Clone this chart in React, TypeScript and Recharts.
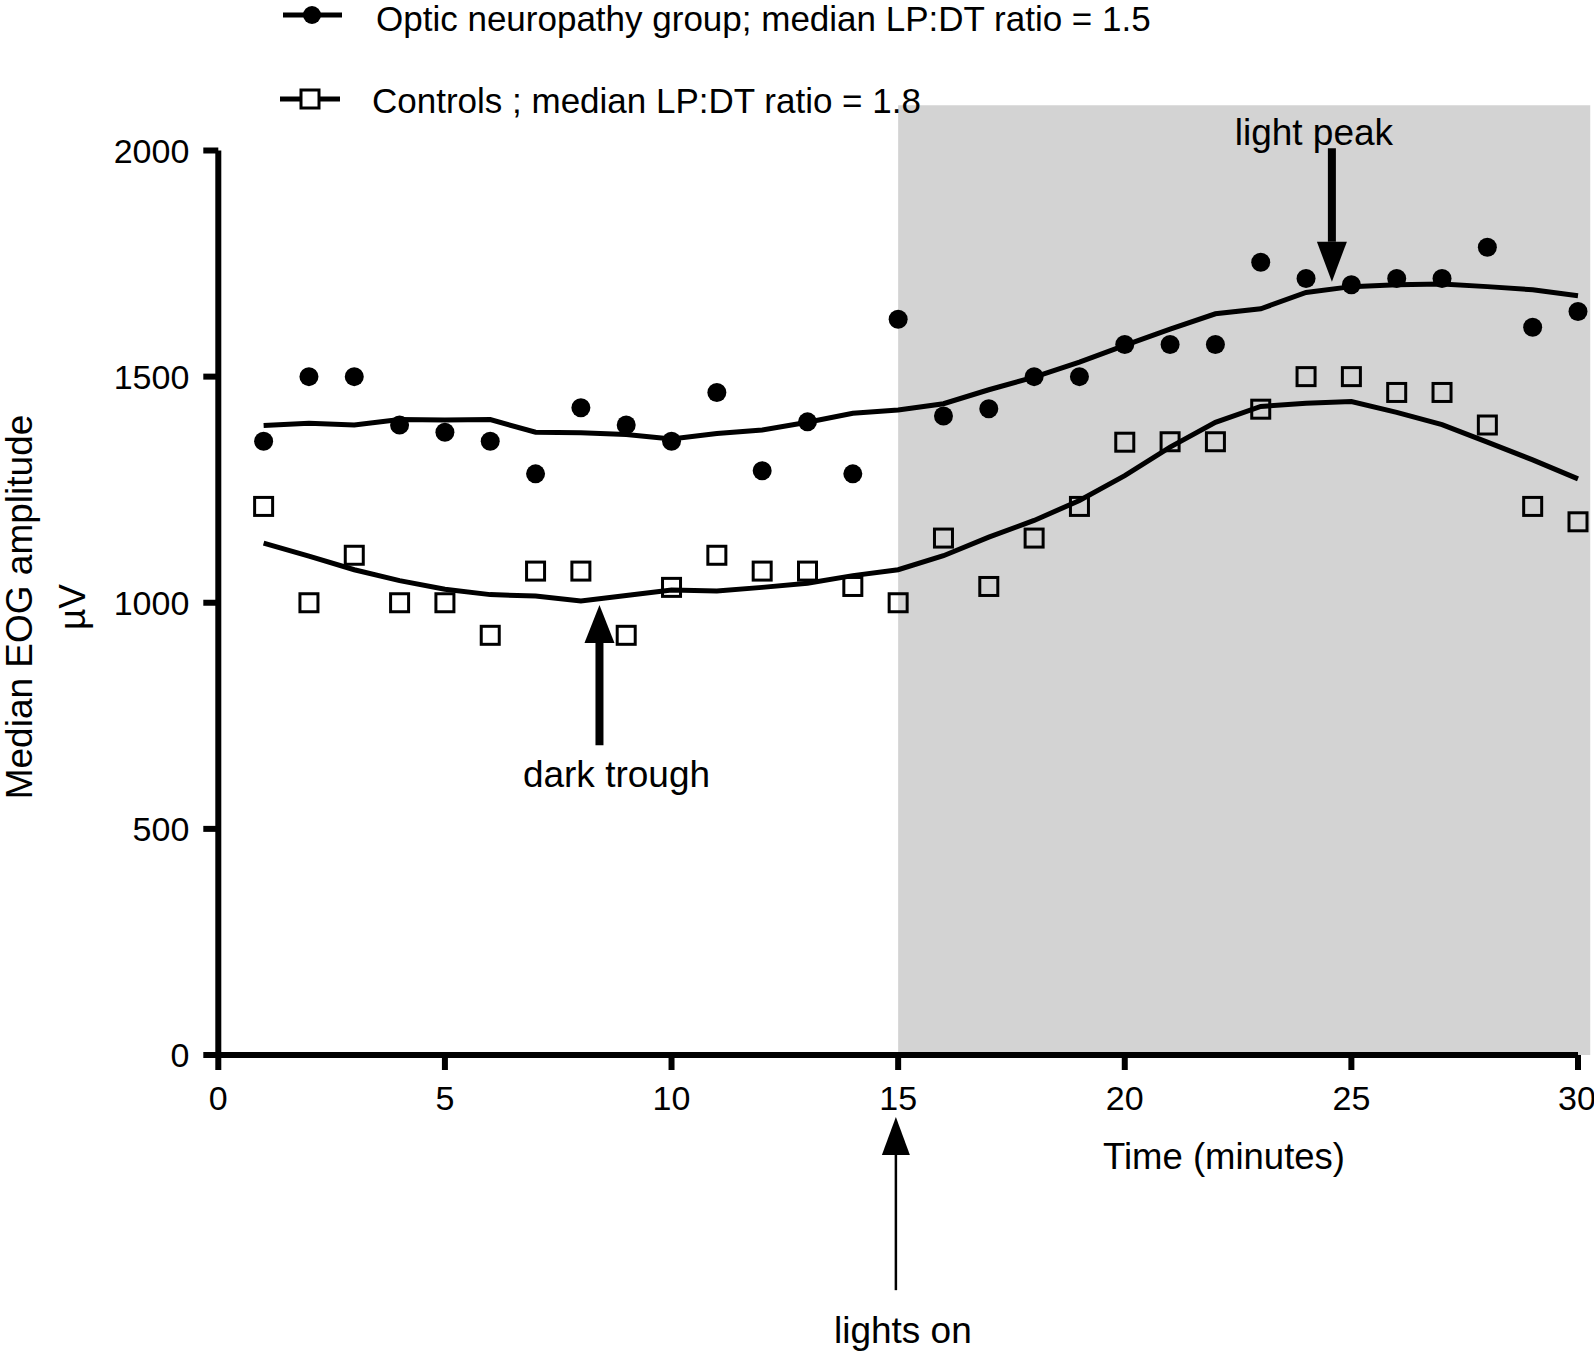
import { ComposedChart, Line, Scatter, XAxis, YAxis, ReferenceArea, ReferenceLine } from "recharts"

// minutes after start of recording
const minutes = [1, 2, 3, 4, 5, 6, 7, 8, 9, 10, 11, 12, 13, 14, 15, 16, 17, 18, 19, 20, 21, 22, 23, 24, 25, 26, 27, 28, 29, 30]

// median EOG amplitude, µV
const opticPoints = [1357, 1500, 1500, 1393, 1377, 1357, 1285, 1431, 1393, 1357, 1465, 1292, 1400, 1285, 1627, 1413, 1429, 1500, 1500, 1571, 1571, 1571, 1753, 1717, 1703, 1717, 1717, 1786, 1609, 1644]
const controlPoints = [1213, 1000, 1105, 1000, 1000, 928, 1070, 1070, 928, 1034, 1105, 1070, 1070, 1036, 1000, 1143, 1036, 1143, 1213, 1355, 1356, 1356, 1428, 1500, 1500, 1465, 1465, 1393, 1213, 1179]

// smoothed curves
const opticTrend = [1392, 1397, 1393, 1405, 1404, 1405, 1377, 1376, 1372, 1362, 1374, 1382, 1399, 1419, 1426, 1440, 1471, 1499, 1532, 1569, 1605, 1639, 1650, 1686, 1699, 1703, 1705, 1699, 1692, 1679]
const controlTrend = [1132, 1103, 1073, 1049, 1030, 1018, 1015, 1004, 1016, 1028, 1026, 1034, 1043, 1060, 1073, 1104, 1145, 1182, 1226, 1281, 1344, 1399, 1434, 1441, 1445, 1421, 1394, 1355, 1316, 1274]

const xTicks = [0, 5, 10, 15, 20, 25, 30]
const yTicks = [0, 500, 1000, 1500, 2000]
const seriesNames = ["Optic neuropathy group; median LP:DT ratio = 1.5", "Controls ; median LP:DT ratio = 1.8"]

const FONT = '"Liberation Sans", Arial, Helvetica, sans-serif'

const rows = minutes.map((m, i) => ({
  minute: m,
  optic: opticPoints[i],
  control: controlPoints[i],
  opticFit: opticTrend[i],
  controlFit: controlTrend[i],
}))

// eslint-disable-next-line @typescript-eslint/no-explicit-any
function FilledDot({ cx, cy }: any) {
  if (cx == null || cy == null) return null
  return <circle cx={cx} cy={cy} r={9.5} fill="#000" />
}

// eslint-disable-next-line @typescript-eslint/no-explicit-any
function OpenSquare({ cx, cy }: any) {
  if (cx == null || cy == null) return null
  return <rect x={cx - 9} y={cy - 9} width={18} height={18} fill="none" stroke="#000" strokeWidth={3} />
}

// arrow from (x1,y1) to the tip at (x2,y2), with its caption near the tail
function arrow(shaft: number, headW: number, headL: number, text: string, tdx: number, tdy: number) {
  // eslint-disable-next-line @typescript-eslint/no-explicit-any
  return (p: any) => {
    const { x1, y1, x2, y2 } = p
    const dir = y2 > y1 ? 1 : -1
    const baseY = y2 - dir * headL
    return (
      <g>
        <line x1={x1} y1={y1} x2={x2} y2={baseY} stroke="#000" strokeWidth={shaft} />
        <polygon points={`${x2 - headW / 2},${baseY} ${x2 + headW / 2},${baseY} ${x2},${y2}`} fill="#000" />
        <text x={x1 + tdx} y={y1 + tdy} textAnchor="middle" fontSize={37} fontFamily={FONT} fill="#000">
          {text}
        </text>
      </g>
    )
  }
}

const tickStyle = { fontSize: 34, fontFamily: FONT, fill: "#000" }
const axisStroke = { stroke: "#000", strokeWidth: 6 }

export default function App() {
  return (
    <div style={{ position: "absolute", left: 0, top: 0, width: 1594, height: 1357, background: "#fff" }}>
      <ComposedChart
        width={1594}
        height={1357}
        data={rows}
        margin={{ top: 150.5, right: 16, left: 118.3, bottom: 242 }}
      >
        <ReferenceArea x1={15} x2={30.27} y1={0} y2={2100} fill="#d3d3d3" fillOpacity={1} stroke="none" ifOverflow="visible" />
        <XAxis
          dataKey="minute"
          type="number"
          domain={[0, 30]}
          ticks={xTicks}
          height={60}
          tick={tickStyle}
          tickSize={15}
          tickMargin={16}
          axisLine={axisStroke}
          tickLine={axisStroke}
        />
        <YAxis
          type="number"
          domain={[0, 2000]}
          ticks={yTicks}
          width={100}
          tick={tickStyle}
          tickSize={15}
          tickMargin={14}
          axisLine={axisStroke}
          tickLine={axisStroke}
        />
        <Line dataKey="opticFit" type="linear" stroke="#000" strokeWidth={5} dot={false} isAnimationActive={false} />
        <Line dataKey="controlFit" type="linear" stroke="#000" strokeWidth={5} dot={false} isAnimationActive={false} />
        <Scatter dataKey="optic" shape={<FilledDot />} isAnimationActive={false} />
        <Scatter dataKey="control" shape={<OpenSquare />} isAnimationActive={false} />
        <ReferenceLine
          segment={[{ x: 24.57, y: 2005 }, { x: 24.57, y: 1710 }]}
          ifOverflow="visible"
          shape={arrow(8, 30, 40, "light peak", -18, -3)}
        />
        <ReferenceLine
          segment={[{ x: 8.41, y: 685 }, { x: 8.41, y: 995 }]}
          ifOverflow="visible"
          shape={arrow(8, 30, 38, "dark trough", 17, 42)}
        />
        <ReferenceLine
          segment={[{ x: 14.95, y: -520 }, { x: 14.95, y: -137 }]}
          ifOverflow="visible"
          shape={arrow(2.5, 28, 38, "lights on", 7, 53)}
        />
      </ComposedChart>
      <svg
        width={1594}
        height={1357}
        style={{ position: "absolute", left: 0, top: 0, pointerEvents: "none" }}
        fontFamily={FONT}
      >
        <line x1={283} y1={15} x2={342} y2={15} stroke="#000" strokeWidth={5} />
        <circle cx={312} cy={15} r={9} fill="#000" />
        <text x={376} y={31} fontSize={35}>{seriesNames[0]}</text>
        <line x1={280} y1={99} x2={340} y2={99} stroke="#000" strokeWidth={5} />
        <rect x={301} y={90} width={18} height={18} fill="#fff" stroke="#000" strokeWidth={3} />
        <text x={372} y={113} fontSize={35}>{seriesNames[1]}</text>
        <text x={1103} y={1169} fontSize={36.5}>Time (minutes)</text>
        <text transform="translate(31.5,607) rotate(-90)" textAnchor="middle" fontSize={37}>
          Median EOG amplitude
        </text>
        <text transform="translate(85,607) rotate(-90)" textAnchor="middle" fontSize={37}>
          µV
        </text>
      </svg>
    </div>
  )
}
